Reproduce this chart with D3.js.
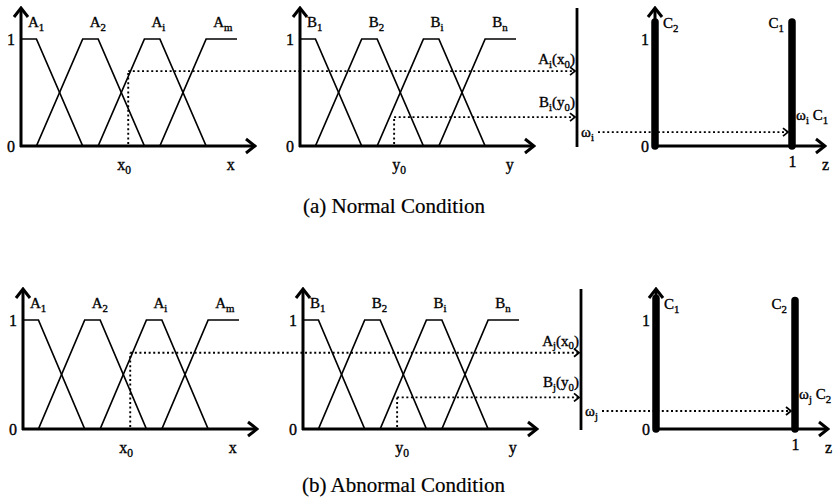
<!DOCTYPE html>
<html lang="en">
<head>
<meta charset="UTF-8">
<title>Fuzzy inference - normal / abnormal</title>
<script src="https://cdn.jsdelivr.net/npm/d3@7"></script>
<style>
  body { margin: 0; background: #fff; }
  svg text { font-family: "Liberation Serif", "Times New Roman", serif; fill: #000; stroke: #000; stroke-width: 0.35; }
</style>
</head>
<body>
<svg id="chart" width="833" height="503"></svg>
<script>
// membership functions, points are [u, mu]
var setsA = [
  [[0, 1], [1, 1], [4, 0]],
  [[1, 0], [4, 1], [5, 1], [8, 0]],
  [[5, 0], [8, 1], [9, 1], [12, 0]],
  [[9, 0], [12, 1], [14, 1]]
];
var setsB = [
  [[0, 1], [1, 1], [4, 0]],
  [[1, 0], [4, 1], [5, 1], [8, 0]],
  [[5, 0], [8, 1], [9, 1], [12, 0]],
  [[9, 0], [12, 1], [14, 1]]
];
var labelsA = ["A_1", "A_2", "A_i", "A_m"];
var labelsB = ["B_1", "B_2", "B_i", "B_n"];

var titles = ["(a) Normal Condition", "(b) Abnormal Condition"];
var x0 = [6.95, 6.95];
var y0 = [6.1, 6.1];
var muA = [0.70, 0.70];
var muB = [0.27, 0.29];
var omega = [0.13, 0.165];
var muALabels = ["A_i(x_0)", "A_j(x_0)"];
var muBLabels = ["B_i(y_0)", "B_j(y_0)"];
var omegaLabels = ["ω_i", "ω_j"];
var singletonZ = [0, 1];
var consequents = [["C_2", "C_1"], ["C_1", "C_2"]];
var singletonH = [[1.16, 1.16], [1.2, 1.18]];
var outLabels = ["ω_i C_1", "ω_j C_2"];

// layout of each row
var rows = [
  { yZero: 146, yOne: 39, ax: 21, bx: 300, vx: 577, cx: 655, w: 216, zw: 137, titleX: 303, titleY: 213 },
  { yZero: 429, yOne: 320, ax: 23, bx: 303, vx: 581, cx: 656, w: 216, zw: 139, titleX: 302, titleY: 492 }
];

var svg = d3.select("#chart");

var defs = svg.append("defs");
defs.append("marker")
    .attr("id", "axisHead")
    .attr("markerUnits", "userSpaceOnUse")
    .attr("viewBox", "-12 -9 14 18")
    .attr("markerWidth", 14).attr("markerHeight", 18)
    .attr("refX", 0).attr("refY", 0)
    .attr("orient", "auto")
  .append("path")
    .attr("d", "M-9,-7 L0,0 L-9,7")
    .attr("fill", "none").attr("stroke", "#000").attr("stroke-width", 3);
defs.append("marker")
    .attr("id", "dotHead")
    .attr("markerUnits", "userSpaceOnUse")
    .attr("viewBox", "-7 -5 9 10")
    .attr("markerWidth", 9).attr("markerHeight", 10)
    .attr("refX", 0).attr("refY", 0)
    .attr("orient", "auto")
  .append("path")
    .attr("d", "M-5,-4 L0,0 L-5,4")
    .attr("fill", "none").attr("stroke", "#000").attr("stroke-width", 1.8);

// write "A_i(x_0)" style text with subscripts
function richText(sel, str, size) {
  var parts = str.split(/(_.)/);
  var shifted = false;
  parts.forEach(function(p) {
    if (!p) return;
    if (p[0] === "_") {
      sel.append("tspan").attr("dy", 3.5).attr("font-size", size * 0.72).text(p[1]);
      shifted = true;
    } else {
      sel.append("tspan").attr("dy", shifted ? -3.5 : 0).text(p);
      shifted = false;
    }
  });
  return sel;
}

function addLabel(g, str, x, y, anchor, size) {
  var t = g.append("text").attr("x", x).attr("y", y)
      .attr("text-anchor", anchor || "start")
      .attr("font-size", size || 15);
  richText(t, str, size || 15);
  return t;
}

function axisLines(g, ox, row, len) {
  g.append("line")
      .attr("x1", ox).attr("x2", ox)
      .attr("y1", row.yZero + 1).attr("y2", row.yOne - 31)
      .attr("stroke", "#000").attr("stroke-width", 3)
      .attr("marker-end", "url(#axisHead)");
  g.append("line")
      .attr("x1", ox - 1).attr("x2", ox + len)
      .attr("y1", row.yZero).attr("y2", row.yZero)
      .attr("stroke", "#000").attr("stroke-width", 3)
      .attr("marker-end", "url(#axisHead)");
}

function tickLabels(g, ox, ys) {
  var ax = g.append("g")
      .attr("transform", "translate(" + ox + ",0)")
      .call(d3.axisLeft(ys).tickValues([0, 1]).tickSize(0).tickPadding(6).tickFormat(d3.format("d")));
  ax.select(".domain").remove();
  ax.selectAll("text")
      .attr("font-family", "Liberation Serif, serif")
      .attr("font-size", 16).attr("fill", "#000");
}

var dotted = function(sel) {
  sel.attr("stroke", "#000").attr("stroke-width", 1.9)
     .attr("stroke-dasharray", "2,2.6").attr("fill", "none");
};

rows.forEach(function(row, r) {
  var g = svg.append("g");
  var ys = d3.scaleLinear().domain([0, 1]).range([row.yZero, row.yOne]);
  var xa = d3.scaleLinear().domain([0, 14]).range([row.ax, row.ax + row.w]);
  var xb = d3.scaleLinear().domain([0, 14]).range([row.bx, row.bx + row.w]);
  var zs = d3.scaleLinear().domain([0, 1]).range([row.cx, row.cx + row.zw]);

  // input panels
  [[xa, setsA, labelsA, row.ax], [xb, setsB, labelsB, row.bx]].forEach(function(p) {
    var xs = p[0];
    var line = d3.line().x(function(d) { return xs(d[0]); }).y(function(d) { return ys(d[1]); });
    g.append("g").selectAll("path")
      .data(p[1])
      .enter().append("path")
        .attr("d", line)
        .attr("fill", "none").attr("stroke", "#000").attr("stroke-width", 1.7);
    p[1].forEach(function(set, i) {
      var top = set.filter(function(d) { return d[1] === 1; })[0];
      addLabel(g, p[2][i], xs(top[0]) + 7, row.yOne - 12, "start", 15);
    });
    axisLines(g, p[3], row, row.w + 18);
    tickLabels(g, p[3], ys);
  });

  // crisp inputs
  g.append("line").call(dotted)
      .attr("x1", xa(x0[r])).attr("x2", xa(x0[r]))
      .attr("y1", row.yZero - 2).attr("y2", ys(muA[r]));
  g.append("line").call(dotted)
      .attr("x1", xa(x0[r])).attr("x2", row.vx - 2)
      .attr("y1", ys(muA[r])).attr("y2", ys(muA[r]))
      .attr("marker-end", "url(#dotHead)");
  g.append("line").call(dotted)
      .attr("x1", xb(y0[r])).attr("x2", xb(y0[r]))
      .attr("y1", row.yZero - 2).attr("y2", ys(muB[r]));
  g.append("line").call(dotted)
      .attr("x1", xb(y0[r])).attr("x2", row.vx - 2)
      .attr("y1", ys(muB[r])).attr("y2", ys(muB[r]))
      .attr("marker-end", "url(#dotHead)");

  addLabel(g, "x_0", xa(x0[r]) - 4, row.yZero + 24, "middle", 16);
  addLabel(g, "x", xa(13.6), row.yZero + 24, "middle", 16);
  addLabel(g, "y_0", xb(y0[r]) + 5, row.yZero + 24, "middle", 16);
  addLabel(g, "y", xb(13.6), row.yZero + 24, "middle", 16);
  addLabel(g, muALabels[r], row.vx - 2, ys(muA[r]) - 7, "end", 15);
  addLabel(g, muBLabels[r], row.vx - 2, ys(muB[r]) - 10, "end", 15);

  // firing strength
  g.append("line")
      .attr("x1", row.vx).attr("x2", row.vx)
      .attr("y1", row.yOne - 31).attr("y2", row.yZero + 1)
      .attr("stroke", "#000").attr("stroke-width", 2.8);
  addLabel(g, omegaLabels[r], row.vx + 4, ys(omega[r]) + 5, "start", 15);
  g.append("line").call(dotted)
      .attr("x1", row.vx + 21).attr("x2", zs(1) - 4)
      .attr("y1", ys(omega[r])).attr("y2", ys(omega[r]))
      .attr("marker-end", "url(#dotHead)");

  // output singletons
  g.append("g").selectAll("line")
    .data(singletonZ)
    .enter().append("line")
      .attr("x1", function(d) { return zs(d); })
      .attr("x2", function(d) { return zs(d); })
      .attr("y1", row.yZero)
      .attr("y2", function(d, i) { return ys(singletonH[r][i]); })
      .attr("stroke", "#000").attr("stroke-width", 7.5)
      .attr("stroke-linecap", "round");
  axisLines(g, row.cx, row, row.zw + 33);
  tickLabels(g, row.cx, ys);
  addLabel(g, consequents[r][0], zs(0) + 8, row.yOne - 11, "start", 15);
  addLabel(g, consequents[r][1], zs(1) - 8, row.yOne - 11, "end", 15);
  addLabel(g, outLabels[r], zs(1) + 4, ys(omega[r]) - 12, "start", 15);
  var zx = g.append("g")
      .attr("transform", "translate(0," + row.yZero + ")")
      .call(d3.axisBottom(zs).tickValues([1]).tickSize(0).tickPadding(10).tickFormat(d3.format("d")));
  zx.select(".domain").remove();
  zx.selectAll("text").attr("font-family", "Liberation Serif, serif")
      .attr("font-size", 16).attr("fill", "#000");
  addLabel(g, "z", row.cx + row.zw + 30, row.yZero + 24, "start", 16);

  g.append("text")
      .attr("x", row.titleX).attr("y", row.titleY)
      .attr("font-size", 21)
      .style("stroke-width", 0.2)
      .text(titles[r]);
});
</script>
</body>
</html>
